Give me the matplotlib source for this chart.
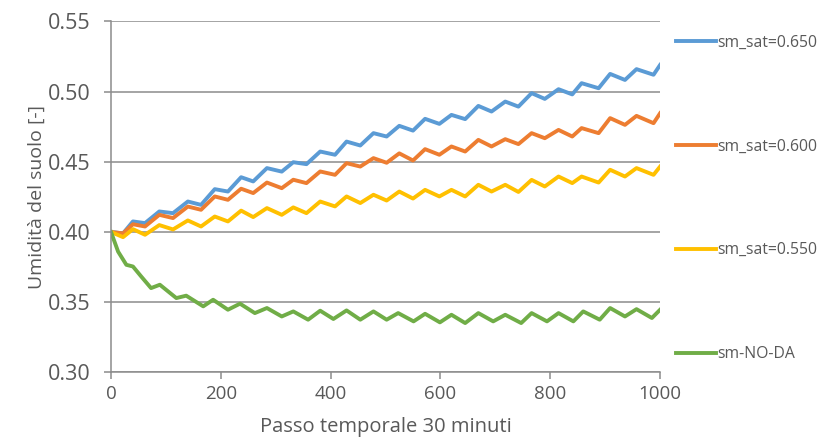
import matplotlib
matplotlib.use("Agg")
import matplotlib.pyplot as plt

# time steps (30 min) at the peaks/troughs
steps = [0, 22, 40, 62, 88, 113, 140, 164, 189, 213, 237, 259, 284, 311, 332,
         356, 381, 408, 429, 454, 478, 502, 525, 550, 572, 598, 620, 645, 669,
         693, 718, 742, 766, 790, 815, 840, 857, 888, 909, 936, 957, 988, 1000]

sm_650 = [0.400, 0.399, 0.4075, 0.4063, 0.4146, 0.4134, 0.4217, 0.4193, 0.4305,
          0.4288, 0.4390, 0.4360, 0.4455, 0.4430, 0.4497, 0.4483, 0.4573, 0.4550,
          0.4644, 0.4616, 0.4704, 0.4680, 0.4756, 0.4722, 0.4806, 0.4770, 0.4834,
          0.4804, 0.4898, 0.4858, 0.4929, 0.4893, 0.4989, 0.4948, 0.5017, 0.4980,
          0.5060, 0.5024, 0.5126, 0.5083, 0.5160, 0.5120, 0.5190]

sm_600 = [0.400, 0.399, 0.4055, 0.4039, 0.4122, 0.4099, 0.4181, 0.4158, 0.4253,
          0.4229, 0.4308, 0.4277, 0.4352, 0.4312, 0.4372, 0.4348, 0.4431, 0.4407,
          0.4490, 0.4466, 0.4526, 0.4493, 0.4560, 0.4509, 0.4590, 0.4550, 0.4609,
          0.4573, 0.4656, 0.4609, 0.4661, 0.4626, 0.4704, 0.4668, 0.4727, 0.4680,
          0.4740, 0.4704, 0.4811, 0.4763, 0.4827, 0.4775, 0.4846]

sm_550 = [0.400, 0.3963, 0.4020, 0.3980, 0.4049, 0.4018, 0.4082, 0.4039, 0.4110,
          0.4075, 0.4152, 0.4106, 0.4170, 0.4122, 0.4175, 0.4134, 0.4217, 0.4182,
          0.4253, 0.4206, 0.4265, 0.4224, 0.4288, 0.4238, 0.4300, 0.4253, 0.4300,
          0.4253, 0.4336, 0.4288, 0.4336, 0.4285, 0.4371, 0.4324, 0.4395, 0.4348,
          0.4395, 0.4352, 0.4443, 0.4395, 0.4455, 0.4407, 0.4466]

steps_noda = [0, 13, 28, 40, 55, 73, 89, 119, 137, 168, 186, 213, 235, 262, 284,
              311, 332, 359, 381, 405, 429, 454, 478, 502, 523, 551, 572, 599, 620,
              645, 669, 696, 718, 747, 766, 794, 815, 842, 860, 890, 909, 936, 957,
              985, 1000]

sm_noda = [0.400, 0.386, 0.3766, 0.3754, 0.3683, 0.3600, 0.3624, 0.3529, 0.3546,
           0.3470, 0.3517, 0.3446, 0.3489, 0.3422, 0.3458, 0.3398, 0.3434, 0.3375,
           0.3439, 0.3380, 0.3441, 0.3375, 0.3434, 0.3375, 0.3422, 0.3363, 0.3417,
           0.3356, 0.3410, 0.3351, 0.3422, 0.3363, 0.3410, 0.3351, 0.3422, 0.3363,
           0.3422, 0.3363, 0.3434, 0.3375, 0.3458, 0.3398, 0.3450, 0.3387, 0.3446]

labels = ["sm_sat=0.650", "sm_sat=0.600", "sm_sat=0.550", "sm-NO-DA"]
colors = ["#5B9BD5", "#ED7D31", "#FFC000", "#70AD47"]

plt.rcParams["font.family"] = ["Open Sans", "DejaVu Sans"]
text_col = "#595959"
grid_col = "#8C8C8C"

fig = plt.figure(figsize=(8.19, 4.37), dpi=100)
ax = fig.add_axes([0.1355, 0.148, 0.6705, 0.803])

ax.plot(steps, sm_650, color=colors[0], lw=2.8, label=labels[0])
ax.plot(steps, sm_600, color=colors[1], lw=2.8, label=labels[1])
ax.plot(steps, sm_550, color=colors[2], lw=2.8, label=labels[2])
ax.plot(steps_noda, sm_noda, color=colors[3], lw=2.8, label=labels[3])

ax.set_xlim(0, 1000)
ax.set_ylim(0.30, 0.55)
ax.set_xticks([0, 200, 400, 600, 800, 1000])
ax.set_yticks([0.30, 0.35, 0.40, 0.45, 0.50, 0.55])
ax.set_yticklabels(["0.30", "0.35", "0.40", "0.45", "0.50", "0.55"])
ax.yaxis.grid(True, color=grid_col, lw=1.1)
ax.set_axisbelow(True)

for s in ["top", "right"]:
    ax.spines[s].set_visible(False)
for s in ["left", "bottom"]:
    ax.spines[s].set_color(grid_col)
    ax.spines[s].set_linewidth(1.1)

ax.tick_params(axis="both", direction="out", length=5, width=1.1, color=grid_col,
               labelcolor=text_col)
ax.tick_params(axis="y", labelsize=15.5, pad=10)
ax.tick_params(axis="x", labelsize=13.5, pad=4)

ax.set_ylabel("Umidità del suolo [-]", fontsize=14, color=text_col, labelpad=1)
ax.set_xlabel("Passo temporale 30 minuti", fontsize=14.5, color=text_col, labelpad=10)

ax.legend(loc="upper left", bbox_to_anchor=(0.826, 0.921), bbox_transform=fig.transFigure,
          frameon=False, fontsize=11.3, labelspacing=5.6, handlelength=2.5,
          handletextpad=0.1, borderpad=0, borderaxespad=0, labelcolor=text_col)

fig.savefig("out.png", dpi=100)
